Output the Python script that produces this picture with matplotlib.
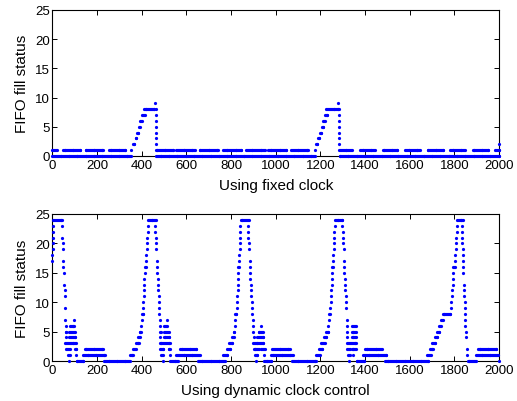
import numpy as np
import matplotlib
matplotlib.use('Agg')
import matplotlib.pyplot as plt

# FIFO fill level, stored as runs: (first cycle, last cycle, level)
# a run is drawn as one dot every STEP cycles, single dots have first == last
STEP = 4

# ---- fixed clock ----
fixed_idle = [(0, 352, 0), (464, 1176, 0), (1286, 2000, 0)]
fixed_toggle = [(0, 19, 1), (46, 123, 1), (148, 227, 1), (252, 327, 1),
                (462, 540, 1), (555, 637, 1), (659, 741, 1), (764, 846, 1),
                (868, 950, 1), (965, 1047, 1), (1070, 1144, 1),
                (1285, 1340, 1), (1377, 1444, 1), (1479, 1544, 1), (1579, 1646, 1),
                (1680, 1750, 1), (1780, 1848, 1), (1882, 1952, 1), (1982, 2000, 1)]
fixed_burst1 = [(352, 352, 1), (361, 367, 2), (372, 376, 3), (379, 384, 4),
                (387, 391, 5), (394, 400, 6), (401, 413, 7), (409, 456, 8), (458, 458, 9),
                (462, 462, 8), (462, 462, 7), (462, 462, 6), (462, 462, 5),
                (462, 462, 4), (462, 462, 3), (462, 462, 2)]
fixed_burst2 = [(1174, 1174, 1), (1180, 1186, 2), (1189, 1195, 3), (1198, 1204, 4),
                (1206, 1212, 5), (1213, 1219, 6), (1221, 1231, 7), (1227, 1280, 8),
                (1278, 1278, 9), (1283, 1283, 8), (1283, 1283, 7), (1283, 1283, 6),
                (1283, 1283, 5), (1283, 1283, 4), (1283, 1283, 3), (1283, 1283, 2),
                (2000, 2000, 2)]

# ---- dynamic clock control ----
dyn_peak1 = [(0, 0, 17), (0, 0, 18), (1, 1, 19), (1, 1, 20), (2, 2, 21), (2, 2, 22),
             (3, 3, 23), (4, 44, 24),
             (42, 42, 23), (44, 44, 21), (45, 45, 20), (46, 46, 19), (47, 47, 17),
             (49, 49, 16), (51, 51, 15), (53, 53, 13), (55, 55, 12), (56, 56, 11),
             (57, 57, 9),
             (57, 57, 7), (96, 96, 7), (60, 60, 6), (78, 96, 6), (60, 62, 5), (76, 100, 5),
             (60, 60, 4), (76, 102, 4), (58, 104, 3), (62, 78, 2), (100, 106, 2),
             (70, 78, 1), (106, 106, 1), (72, 72, 0)]
dyn_rest1 = [(108, 138, 0), (137, 234, 1), (144, 226, 2), (231, 346, 0)]

dyn_peak2 = [(346, 362, 1), (362, 374, 2), (373, 386, 3), (384, 392, 4), (390, 396, 5),
             (397, 397, 6), (399, 399, 7), (400, 405, 8), (405, 405, 9), (407, 407, 10),
             (408, 408, 11), (409, 409, 12), (411, 411, 13), (412, 412, 14),
             (414, 414, 15), (415, 419, 16), (419, 419, 17), (420, 420, 18),
             (422, 422, 19), (423, 423, 20), (424, 424, 21), (426, 426, 22),
             (427, 427, 23), (428, 464, 24),
             (460, 460, 23), (461, 461, 22), (463, 463, 21), (464, 464, 20),
             (465, 465, 19), (467, 467, 17), (468, 468, 16), (470, 470, 15),
             (471, 471, 14), (473, 473, 13), (474, 474, 12), (476, 476, 11),
             (477, 477, 10), (478, 478, 9), (479, 479, 8),
             (480, 480, 7), (515, 515, 7), (482, 482, 6), (500, 512, 6),
             (482, 484, 5), (500, 520, 5), (482, 482, 4), (498, 524, 4),
             (480, 526, 3), (482, 496, 2), (520, 526, 2), (488, 496, 1),
             (526, 526, 1), (495, 495, 0)]
dyn_rest2 = [(527, 562, 0), (555, 659, 1), (570, 644, 2), (652, 771, 0)]

dyn_peak3 = [(765, 784, 1), (781, 796, 2), (792, 805, 3), (804, 812, 4), (811, 815, 5),
             (816, 816, 6), (819, 819, 7), (818, 824, 8), (825, 825, 9), (827, 827, 10),
             (828, 828, 11), (829, 829, 12), (830, 830, 13), (831, 831, 14),
             (832, 832, 15), (832, 836, 16), (836, 836, 17), (837, 837, 18),
             (838, 838, 19), (839, 839, 20), (840, 840, 21), (841, 841, 22),
             (842, 842, 23), (843, 879, 24),
             (876, 876, 23), (877, 877, 22), (878, 878, 21), (880, 880, 20),
             (881, 881, 19), (883, 883, 17), (884, 884, 16), (886, 886, 15),
             (887, 887, 14), (888, 888, 13), (889, 889, 12), (890, 890, 11),
             (892, 892, 10), (893, 893, 9), (895, 895, 8),
             (897, 897, 7), (898, 898, 6), (935, 935, 6), (898, 898, 5), (923, 943, 5),
             (901, 901, 4), (917, 943, 4), (898, 943, 3), (901, 923, 2), (935, 950, 2),
             (908, 917, 1), (948, 948, 1), (913, 913, 0)]
dyn_rest3 = [(947, 980, 0), (978, 1077, 1), (985, 1062, 2), (1074, 1182, 0)]

dyn_peak4 = [(1181, 1197, 1), (1195, 1209, 2), (1204, 1220, 3), (1216, 1227, 4),
             (1226, 1236, 5), (1234, 1234, 6), (1237, 1237, 7), (1239, 1243, 8),
             (1244, 1244, 9), (1246, 1246, 10), (1247, 1247, 11), (1249, 1249, 12),
             (1250, 1250, 13), (1251, 1251, 14), (1252, 1252, 15), (1253, 1257, 16),
             (1257, 1257, 17), (1258, 1258, 18), (1260, 1260, 19), (1261, 1261, 20),
             (1262, 1262, 21), (1263, 1263, 22), (1264, 1264, 23), (1265, 1299, 24),
             (1299, 1299, 23), (1300, 1300, 22), (1302, 1302, 21), (1303, 1303, 20),
             (1304, 1304, 19), (1305, 1305, 17), (1306, 1306, 16), (1308, 1308, 15),
             (1309, 1309, 14), (1310, 1310, 13), (1312, 1312, 12), (1313, 1313, 11),
             (1315, 1315, 10), (1316, 1316, 9),
             (1318, 1318, 7), (1318, 1318, 6), (1343, 1358, 6), (1321, 1321, 5),
             (1340, 1358, 5), (1321, 1321, 4), (1340, 1358, 4), (1321, 1358, 3),
             (1321, 1333, 2), (1340, 1358, 2), (1325, 1333, 1), (1348, 1348, 1),
             (1330, 1330, 0)]
dyn_rest4 = [(1362, 1396, 0), (1392, 1496, 1), (1399, 1474, 2), (1489, 1683, 0)]

dyn_peak5 = [(1678, 1694, 1), (1690, 1704, 2), (1700, 1715, 3), (1713, 1724, 4),
             (1724, 1733, 5), (1733, 1741, 6), (1741, 1748, 7), (1748, 1782, 8),
             (1784, 1784, 9), (1786, 1786, 10), (1788, 1788, 11), (1790, 1790, 12),
             (1792, 1792, 13), (1794, 1794, 14), (1795, 1795, 15), (1796, 1802, 16),
             (1803, 1803, 17), (1805, 1805, 18), (1806, 1806, 19), (1807, 1807, 20),
             (1809, 1809, 21), (1810, 1810, 22), (1812, 1812, 23), (1812, 1837, 24),
             (1833, 1833, 23), (1834, 1834, 22), (1835, 1835, 21), (1836, 1836, 20),
             (1837, 1837, 19), (1838, 1838, 18), (1839, 1839, 17), (1840, 1840, 16),
             (1841, 1841, 15), (1843, 1843, 13), (1844, 1844, 12), (1845, 1845, 11),
             (1846, 1846, 10), (1847, 1847, 9), (1848, 1848, 8), (1849, 1849, 7),
             (1850, 1850, 6), (1852, 1852, 5), (1854, 1854, 4), (1856, 1856, 2),
             (1858, 1858, 1)]
dyn_rest5 = [(1860, 1895, 0), (1898, 1994, 1), (1905, 1987, 2), (2000, 2000, 0)]


def expand(runs):
    t, v = [], []
    for a, b, lev in runs:
        ts = np.arange(a, b + 1, STEP)
        if ts[-1] < b:
            ts = np.append(ts, b)
        t.extend(ts)
        v.extend([lev] * len(ts))
    return np.array(t), np.array(v)


plt.rcParams['font.family'] = 'Liberation Sans'
fig = plt.figure(figsize=(5.17, 4.02), dpi=100)
ax1 = fig.add_axes([0.1015, 0.6095, 0.8636, 0.3632])
ax2 = fig.add_axes([0.1015, 0.0995, 0.8636, 0.3657])

panels = [
    (ax1, fixed_idle + fixed_toggle + fixed_burst1 + fixed_burst2, 'Using fixed clock'),
    (ax2, dyn_peak1 + dyn_rest1 + dyn_peak2 + dyn_rest2 + dyn_peak3 + dyn_rest3
     + dyn_peak4 + dyn_rest4 + dyn_peak5 + dyn_rest5, 'Using dynamic clock control'),
]

for ax, runs, xlab in panels:
    t, v = expand(runs)
    ax.plot(t, v, 'o', color='b', ms=2.3, mew=0, clip_on=False, zorder=3)
    ax.set_xlim(0, 2000)
    ax.set_ylim(0, 25)
    ax.set_xticks(np.arange(0, 2001, 200))
    ax.set_yticks(np.arange(0, 26, 5))
    ax.tick_params(direction='in', top=True, right=True, length=3.5, width=0.7,
                   labelsize=9.5, pad=2)
    for s in ax.spines.values():
        s.set_linewidth(0.8)
    ax.set_xlabel(xlab, fontsize=11, labelpad=5)
    ax.set_ylabel('FIFO fill status', fontsize=11, labelpad=4)

fig.savefig('out.png', dpi=100)
